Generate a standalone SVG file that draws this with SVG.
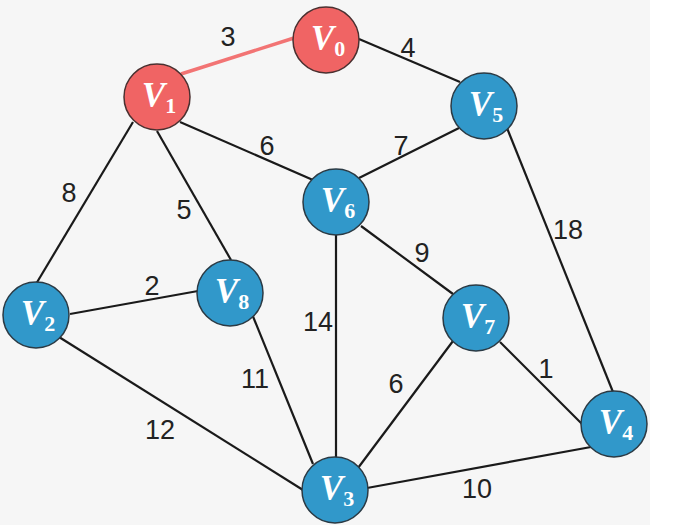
<svg xmlns="http://www.w3.org/2000/svg" width="676" height="530" viewBox="0 0 676 530">
<style>
.e{stroke:#1a1a1a;stroke-width:2.2;fill:none}
.hl{stroke:#f27474;stroke-width:3.5}
.lb{font-family:"Liberation Sans",Arial,sans-serif;font-size:27px;fill:#222;text-anchor:middle}
.b{fill:#3198ca;stroke:#2b3a44;stroke-width:1.5}
.r{fill:#f06464;stroke:#4a3030;stroke-width:1.5}
.t{font-family:"Liberation Serif","Times New Roman",serif;font-weight:bold;font-style:italic;font-size:35px;fill:#fff;text-anchor:middle}
.s{font-size:22px;font-style:normal}
</style>
<rect x="0" y="0" width="676" height="530" fill="#fff"/>
<rect x="0" y="0" width="650" height="525" fill="#f6f6f6"/>
<g id="connectors">
<line class="e" x1="359" y1="39" x2="460" y2="82"/>
<line class="e" x1="180" y1="122" x2="313" y2="180"/>
<line class="e" x1="459" y1="128" x2="359" y2="178"/>
<line class="e" x1="133" y1="122" x2="36" y2="284"/>
<line class="e" x1="157" y1="131" x2="231" y2="260"/>
<line class="e" x1="507" y1="128" x2="613" y2="392"/>
<line class="e" x1="361" y1="226" x2="453" y2="294"/>
<line class="e" x1="70" y1="314" x2="198" y2="291"/>
<line class="e" x1="336" y1="234" x2="336" y2="459"/>
<line class="e" x1="252" y1="314" x2="313" y2="464"/>
<line class="e" x1="453" y1="341" x2="358" y2="468"/>
<line class="e" x1="500" y1="342" x2="584" y2="426"/>
<line class="e" x1="59" y1="337" x2="303" y2="490"/>
<line class="e" x1="367" y1="488" x2="591" y2="447"/>
<line class="e hl" x1="294" y1="38" x2="181" y2="74"/>
</g>
<g id="labels">
<text class="lb" x="228" y="46">3</text>
<text class="lb" x="408" y="57">4</text>
<text class="lb" x="267" y="155">6</text>
<text class="lb" x="401" y="155">7</text>
<text class="lb" x="69" y="202">8</text>
<text class="lb" x="184" y="219">5</text>
<text class="lb" x="568" y="239">18</text>
<text class="lb" x="422" y="262">9</text>
<text class="lb" x="152" y="295">2</text>
<text class="lb" x="318" y="331">14</text>
<text class="lb" x="255" y="388">11</text>
<text class="lb" x="396" y="393">6</text>
<text class="lb" x="546" y="378">1</text>
<text class="lb" x="160" y="439">12</text>
<text class="lb" x="477" y="498">10</text>
</g>
<g id="V0"><circle class="r" cx="326" cy="40" r="33"/><text class="t" x="328" y="50">V<tspan class="s" dy="6">0</tspan></text></g>
<g id="V1"><circle class="r" cx="157" cy="97" r="33"/><text class="t" x="159" y="107">V<tspan class="s" dy="6">1</tspan></text></g>
<g id="V2"><circle class="b" cx="36" cy="315" r="33"/><text class="t" x="38" y="325">V<tspan class="s" dy="6">2</tspan></text></g>
<g id="V3"><circle class="b" cx="335" cy="490" r="33"/><text class="t" x="337" y="500">V<tspan class="s" dy="6">3</tspan></text></g>
<g id="V4"><circle class="b" cx="614" cy="424" r="33"/><text class="t" x="616" y="434">V<tspan class="s" dy="6">4</tspan></text></g>
<g id="V5"><circle class="b" cx="484" cy="106" r="33"/><text class="t" x="486" y="116">V<tspan class="s" dy="6">5</tspan></text></g>
<g id="V6"><circle class="b" cx="336" cy="202" r="33"/><text class="t" x="338" y="212">V<tspan class="s" dy="6">6</tspan></text></g>
<g id="V7"><circle class="b" cx="476" cy="318" r="33"/><text class="t" x="478" y="328">V<tspan class="s" dy="6">7</tspan></text></g>
<g id="V8"><circle class="b" cx="230" cy="293" r="33"/><text class="t" x="232" y="303">V<tspan class="s" dy="6">8</tspan></text></g>
</svg>
